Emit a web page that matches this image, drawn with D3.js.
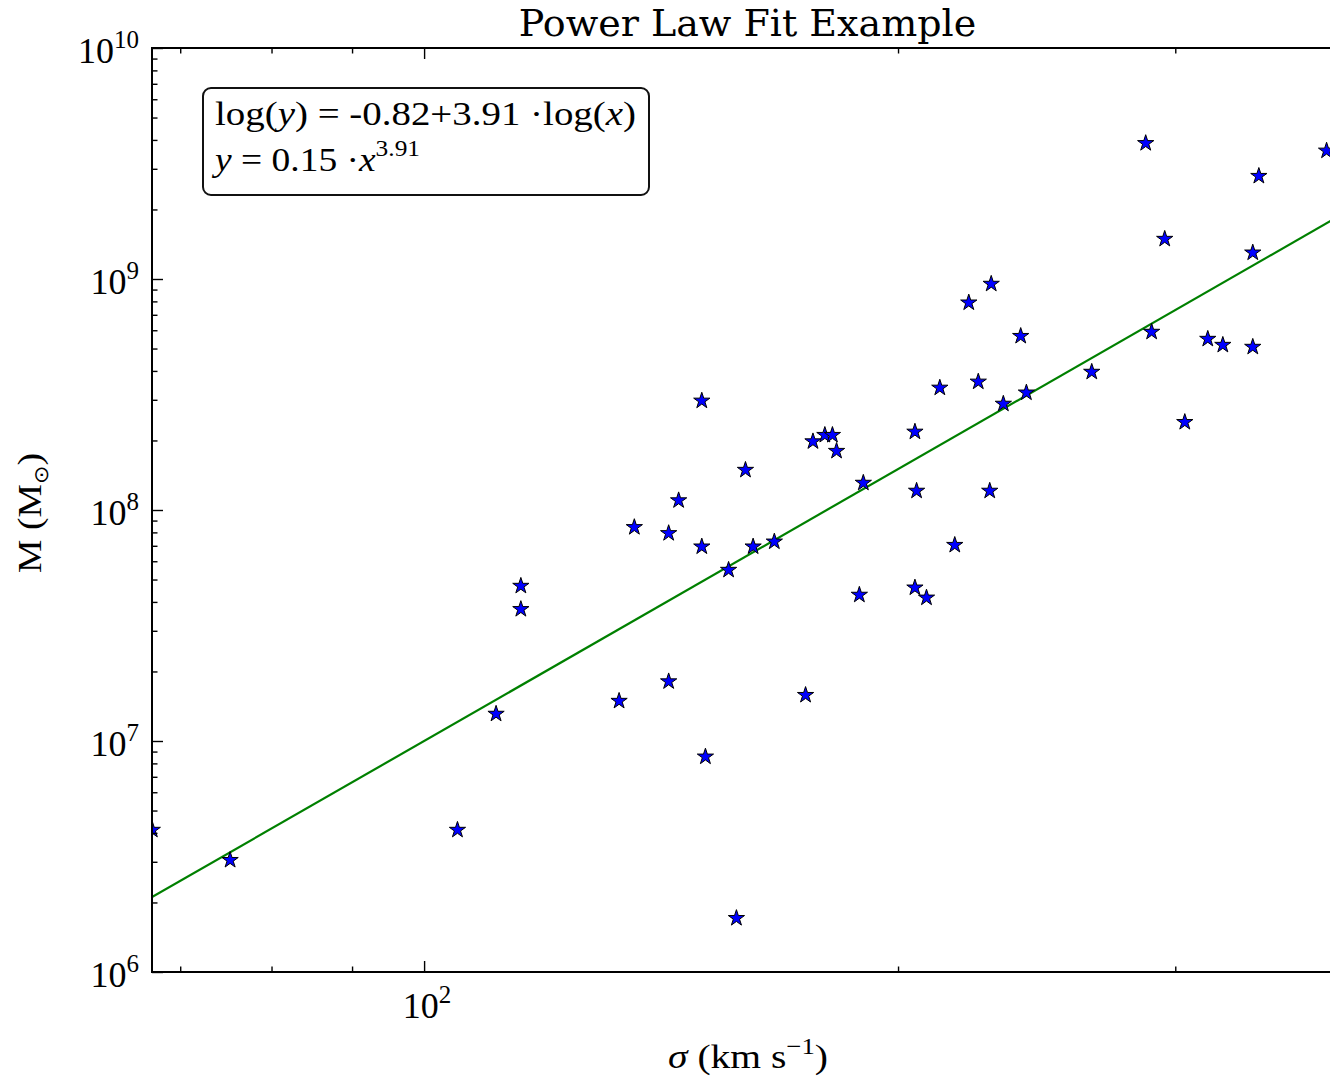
<!DOCTYPE html>
<html>
<head>
<meta charset="utf-8">
<script src="https://cdn.jsdelivr.net/npm/d3@7"></script>
<style>
body{margin:0;background:#fff;overflow:hidden}
</style>
</head>
<body>
<script>
// velocity dispersion (km/s) and black hole mass (M_sun)
var sigma=[67.2,75.3,105.0,111.1,115.2,115.2,133.0,136.0,143.0,143.0,
    145.1,150.1,150.1,150.9,156.1,157.9,160.0,161.8,166.9,174.7,
    176.6,179.7,181.7,182.8,189.0,190.1,205.0,205.0,205.5,208.5,
    212.6,217.3,221.8,224.9,228.7,229.2,233.3,239.3,241.3,265.5,
    287.3,289.8,295.4,304.2,314.6,321.6,336.0,336.0,339.0,374.3];
var mass=[4.12e6,3.05e6,4.12e6,1.31e7,4.69e7,3.72e7,1.49e7,8.42e7,7.93e7,1.81e7,
    1.10e8,2.97e8,6.94e7,8.55e6,5.50e7,1.71e6,1.49e8,6.94e7,7.29e7,1.58e7,
    1.98e8,2.11e8,2.11e8,1.80e8,4.29e7,1.31e8,2.18e8,4.61e7,1.21e8,4.17e7,
    3.38e8,7.05e7,7.90e8,3.59e8,1.21e8,9.52e8,2.88e8,5.66e8,3.22e8,3.96e8,
    3.87e9,5.90e8,1.49e9,2.40e8,5.50e8,5.18e8,1.30e9,5.08e8,2.79e9,3.59e9];
// fit: log(y) = a + b log(x)
var fitIntercept=-0.82;
var fitSlope=3.91;
var fitAmp=0.15;
var xLimits=[67.17,383.4];
var yLimits=[1e6,1e10];
var xMajor=[100];
var yMajor=[1e6,1e7,1e8,1e9,1e10];

var W=1330,H=1076;
var margins={"l":152,"t":48,"r":1343,"b":972};
var pw=margins.r-margins.l, ph=margins.b-margins.t;
var mathFont="'Liberation Serif', 'Times New Roman', serif";

var svg=d3.select("body").append("svg")
    .attr("width",W).attr("height",H)
    .style("display","block");
svg.append("rect").attr("width",W).attr("height",H).attr("fill","#fff");

var x=d3.scaleLog().domain(xLimits).range([0,pw]);
var y=d3.scaleLog().domain(yLimits).range([ph,0]);

var g=svg.append("g").attr("transform","translate("+margins.l+","+margins.t+")");
g.append("clipPath").attr("id","clip")
    .append("rect").attr("width",pw).attr("height",ph);
var plot=g.append("g").attr("clip-path","url(#clip)");

// fit line across the x range
var fitPts=xLimits.map(function (v) {
    return [v,Math.pow(10,fitIntercept+fitSlope*Math.log10(v))];
});
plot.append("path")
    .datum(fitPts)
    .attr("d",d3.line().x(function (d) {return x(d[0]);}).y(function (d) {return y(d[1]);}))
    .attr("fill","none").attr("stroke","#008000").attr("stroke-width",2.2);

var star=d3.symbol().type(d3.symbolStar).size(82);
plot.selectAll("path.pt")
    .data(sigma)
    .enter().append("path")
    .attr("class","pt")
    .attr("d",star)
    .attr("transform",function (d,i) {return "translate("+x(d)+","+y(mass[i])+")";})
    .attr("fill","#0000ff").attr("stroke","#000").attr("stroke-width",1);

// ticks, inward on all four sides
function isMajor(list) {
    return function (v) {return list.some(function (m) {return Math.abs(m-v)/m<1e-9;});};
}
var xMinor=x.ticks().filter(function (v) {return !isMajor(xMajor)(v);});
var yMinor=y.ticks().filter(function (v) {return !isMajor(yMajor)(v);});
function addAxis(gen,pos,majors,minors) {
    [[majors,11],[minors,5.5]].forEach(function (t) {
        var a=g.append("g").attr("transform",pos)
            .call(gen.tickValues(t[0]).tickSize(-t[1]).tickFormat(""));
        a.select(".domain").remove();
        a.selectAll("line").attr("stroke","#000").attr("stroke-width",1.4);
    });
}
addAxis(d3.axisBottom(x),"translate(0,"+ph+")",xMajor,xMinor);
addAxis(d3.axisTop(x),"translate(0,0)",xMajor,xMinor);
addAxis(d3.axisLeft(y),"translate(0,0)",yMajor,yMinor);
addAxis(d3.axisRight(y),"translate("+pw+",0)",yMajor,yMinor);

g.append("rect").attr("width",pw).attr("height",ph)
    .attr("fill","none").attr("stroke","#000").attr("stroke-width",2);

// tick labels 10^n
function powLabel(sel,v) {
    sel.append("tspan").text("10");
    sel.append("tspan").attr("font-size",25).attr("dy",-15).text(Math.round(Math.log10(v)));
}
yMajor.forEach(function (v) {
    var t=g.append("text").attr("x",-13).attr("y",y(v)+15)
        .attr("text-anchor","end").attr("font-family",mathFont).attr("font-size",36);
    powLabel(t,v);
});
xMajor.forEach(function (v) {
    var t=g.append("text").attr("x",x(v)+3).attr("y",ph+46)
        .attr("text-anchor","middle").attr("font-family",mathFont).attr("font-size",36);
    powLabel(t,v);
});

function fitWidth(t,w) {
    t.attr("textLength",w).attr("lengthAdjust","spacingAndGlyphs");
}

// title
svg.append("text").attr("x",747.5).attr("y",36)
    .attr("text-anchor","middle").attr("font-family","'DejaVu Serif', serif")
    .attr("font-size",38).text("Power Law Fit Example");

// axis labels
var xl=svg.append("text").attr("x",748).attr("y",1068)
    .attr("text-anchor","middle").attr("font-family",mathFont).attr("font-size",34);
xl.append("tspan").attr("font-style","italic").text("\u03c3");
xl.append("tspan").text(" (km s");
xl.append("tspan").attr("font-size",23).attr("dy",-14).text("\u22121");
xl.append("tspan").attr("dy",14).text(")");
fitWidth(xl,160);

var yl=svg.append("text").attr("transform","translate(41,513) rotate(-90)")
    .attr("text-anchor","middle").attr("font-family",mathFont).attr("font-size",34);
yl.append("tspan").text("M (M");
yl.append("tspan").attr("font-size",20).attr("dy",7).attr("font-family","'DejaVu Sans', sans-serif").text("\u2299");
yl.append("tspan").attr("dy",-7).text(")");
fitWidth(yl,120);

// fit annotation box
svg.append("rect").attr("x",203).attr("y",88).attr("width",446).attr("height",107)
    .attr("rx",8).attr("ry",8)
    .attr("fill","#fff").attr("stroke","#111").attr("stroke-width",2);
var l1=svg.append("text").attr("x",215).attr("y",125)
    .attr("font-family",mathFont).attr("font-size",34);
l1.append("tspan").text("log(");
l1.append("tspan").attr("font-style","italic").text("y");
l1.append("tspan").text(") = "+fitIntercept.toFixed(2)+"+"+fitSlope.toFixed(2)+" \u00b7log(");
l1.append("tspan").attr("font-style","italic").text("x");
l1.append("tspan").text(")");
fitWidth(l1,421);
var l2=svg.append("text").attr("x",215).attr("y",171)
    .attr("font-family",mathFont).attr("font-size",34);
l2.append("tspan").attr("font-style","italic").text("y");
l2.append("tspan").text(" = "+fitAmp.toFixed(2)+" \u00b7");
l2.append("tspan").attr("font-style","italic").text("x");
l2.append("tspan").attr("font-size",23).attr("dy",-15).text(fitSlope.toFixed(2));
fitWidth(l2,205);
</script>
</body>
</html>
